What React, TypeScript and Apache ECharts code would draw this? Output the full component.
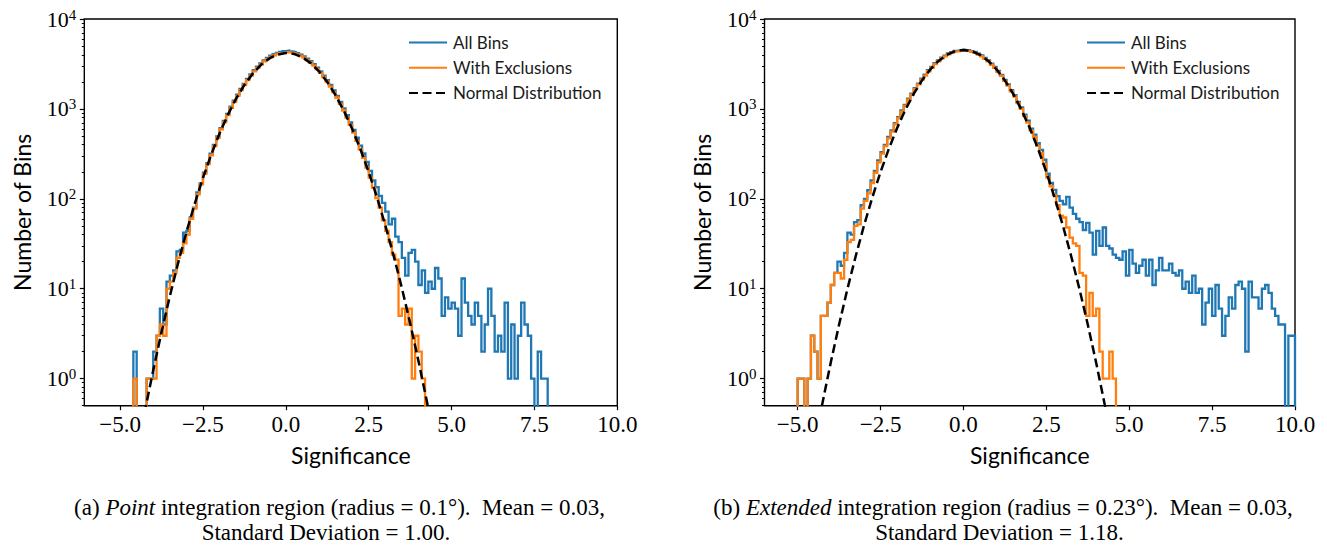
import React, { useEffect, useRef } from 'react';
import * as echarts from 'echarts';

// ---------------- data ----------------
const BIN_WIDTH = 0.1;

// Panel (a): Point integration region
const A_ALL_START = -4.6;
const A_ALL = [
  2, 0, 0, 0, 1, 1, 2, 3, 6, 4,
  12, 14, 16, 26, 27, 42, 44, 62, 80, 118,
  148, 196, 250, 318, 398, 495, 612, 735, 880, 1060,
  1235, 1440, 1665, 1900, 2160, 2420, 2690, 2950, 3200, 3470,
  3690, 3900, 4060, 4200, 4300, 4380, 4450, 4370, 4310, 4170,
  4020, 3830, 3620, 3390, 3140, 2880, 2610, 2350, 2090, 1845,
  1610, 1395, 1195, 1010, 850, 710, 585, 480, 390, 320,
  258, 205, 160, 135, 108, 90, 72, 52, 60, 38,
  33, 22, 14, 25, 27, 20, 11, 16, 9, 12,
  10, 17, 13, 5, 8, 6, 7, 6, 3, 13,
  7, 5, 4, 7, 5, 2, 4, 10, 5, 2,
  3, 2, 7, 1, 4, 1, 3, 7, 4, 3,
  1, 0, 2, 1, 1,
];
const A_EXCL_START = -4.6;
const A_EXCL = [
  1, 0, 0, 0, 1, 1, 1, 3, 4, 3,
  10, 12, 15, 22, 25, 32, 40, 60, 78, 112,
  145, 190, 243, 305, 385, 478, 592, 712, 855, 1030,
  1200, 1395, 1620, 1845, 2095, 2350, 2610, 2860, 3110, 3370,
  3580, 3780, 3940, 4080, 4170, 4240, 4280, 4220, 4170, 4040,
  3890, 3710, 3500, 3280, 3030, 2780, 2520, 2265, 2010, 1770,
  1540, 1330, 1135, 960, 800, 665, 545, 440, 355, 285,
  222, 172, 133, 102, 80, 58, 44, 33, 24, 21,
  5, 6, 4, 6, 1, 3, 2, 1,
];

// Panel (b): Extended integration region
const B_ALL_START = -5.0;
const B_ALL = [
  1, 1, 0, 1, 3, 2, 1, 5, 5, 7,
  11, 15, 20, 18, 25, 42, 40, 55, 58, 85,
  100, 125, 160, 205, 268, 330, 398, 488, 575, 695,
  810, 962, 1110, 1300, 1480, 1705, 1915, 2170, 2400, 2690,
  2940, 3225, 3460, 3725, 3920, 4140, 4280, 4430, 4490, 4560,
  4530, 4510, 4400, 4300, 4110, 3935, 3690, 3465, 3180, 2935,
  2640, 2390, 2105, 1875, 1615, 1420, 1200, 1040, 865, 740,
  605, 518, 415, 350, 272, 190, 150, 126, 107, 95,
  87, 105, 80, 68, 60, 55, 45, 54, 42, 24,
  44, 30, 48, 30, 28, 24, 22, 21, 26, 14,
  27, 19, 15, 18, 21, 14, 21, 11, 16, 22,
  16, 16, 19, 15, 14, 16, 10, 12, 9, 14,
  9, 10, 4, 7, 10, 5, 11, 6, 3, 5,
  8, 6, 11, 12, 10, 2, 12, 8, 8, 6,
  10, 11, 9, 6, 5, 4, 4, 0, 3, 3,
];
const B_EXCL_START = -5.0;
const B_EXCL = [
  1, 1, 0, 1, 3, 2, 1, 5, 5, 7,
  11, 15, 15, 13, 21, 33, 35, 50, 52, 78,
  95, 115, 150, 195, 255, 318, 385, 470, 558, 675,
  790, 935, 1080, 1265, 1445, 1660, 1870, 2115, 2345, 2625,
  2870, 3150, 3385, 3640, 3835, 4050, 4190, 4335, 4395, 4460,
  4435, 4410, 4300, 4205, 4015, 3845, 3605, 3380, 3100, 2860,
  2570, 2325, 2045, 1820, 1565, 1375, 1160, 1000, 830, 705,
  575, 488, 388, 322, 245, 172, 138, 110, 85, 65,
  62, 48, 37, 32, 30, 15, 14, 5, 9, 5,
  6, 2, 1, 1, 2, 1,
];

// Normal distribution reference curves
const NORMAL_X = [
  -4.5, -4.25, -4, -3.75, -3.5, -3.25, -3, -2.75, -2.5, -2.25, -2, -1.75, -1.5,
  -1.25, -1, -0.75, -0.5, -0.25, 0, 0.25, 0.5, 0.75, 1, 1.25, 1.5, 1.75, 2,
  2.25, 2.5, 2.75, 3, 3.25, 3.5, 3.75, 4, 4.25, 4.5,
];
const A_NORMAL = [
  0.147, 0.44, 1.24, 3.3, 8.24, 19.3, 42.5, 87.9, 171, 311, 533, 859, 1300,
  1846, 2464, 3090, 3639, 4027, 4186, 4090, 3750, 3231, 2617, 1990, 1422, 954, 602,
  356, 198, 104, 50.9, 23.5, 10.2, 4.14, 1.58, 0.57, 0.19,
];
const B_NORMAL = [
  0.18, 0.54, 1.52, 4.0, 9.9, 23.0, 50.3, 103, 199, 360, 613, 979, 1470,
  2073, 2747, 3420, 3997, 4389, 4529, 4389, 3997, 3420, 2747, 2073, 1470, 979, 613,
  360, 199, 103, 50.3, 23.0, 9.9, 4.0, 1.52, 0.54, 0.18,
];

const X_TICKS = [-5, -2.5, 0, 2.5, 5, 7.5, 10];
const Y_TICKS = [1, 10, 100, 1000, 10000];
const Y_MINOR_MULT = [2, 3, 4, 5, 6, 7, 8, 9];
const Y_MINOR_DECADES = [0.1, 1, 10, 100, 1000];

const NAMES = ['All Bins', 'With Exclusions', 'Normal Distribution'];
const COLORS = ['#1f77b4', '#ff7f0e', '#000000'];

const CAPTION_A = ['(a) ', 'Point', ' integration region (radius = 0.1°).  Mean = 0.03,', 'Standard Deviation = 1.00.'];
const CAPTION_B = ['(b) ', 'Extended', ' integration region (radius = 0.23°).  Mean = 0.03,', 'Standard Deviation = 1.18.'];

// ---------------- layout ----------------
const SERIF = "'Liberation Serif', 'DejaVu Serif', serif";
const SANS = "Lato, 'DejaVu Sans', sans-serif";
const FLOOR = 0.05;
const PANELS = [
  { left: 84.3, width: 533, xMin: -6.08, legendLeft: 403, capCenter: 339.5, cap2Center: 326 },
  { left: 764.5, width: 530.5, xMin: -6.0, legendLeft: 1081, capCenter: 1003, cap2Center: 999.5 },
];
const GRID_TOP = 19;
const GRID_HEIGHT = 386.7;

function histPoints(start: number, counts: number[]) {
  const pts: number[][] = [[start, FLOOR]];
  counts.forEach((c, i) => {
    const v = c > 0 ? c : FLOOR;
    const x0 = +(start + i * BIN_WIDTH).toFixed(4);
    const x1 = +(start + (i + 1) * BIN_WIDTH).toFixed(4);
    pts.push([x0, v], [x1, v]);
  });
  pts.push([+(start + counts.length * BIN_WIDTH).toFixed(4), FLOOR]);
  return pts;
}

function buildOption() {
  const minor: number[] = [];
  Y_MINOR_DECADES.forEach((d) => Y_MINOR_MULT.forEach((m) => minor.push(+(d * m).toFixed(4))));

  const grids = PANELS.map((p) => ({
    left: p.left,
    top: GRID_TOP,
    width: p.width,
    height: GRID_HEIGHT,
    show: true,
    borderColor: '#000',
    borderWidth: 1.4,
    backgroundColor: 'transparent',
    containLabel: false,
  }));

  const xAxes = PANELS.map((p, i) => ({
    type: 'value',
    gridIndex: i,
    position: 'bottom',
    min: p.xMin,
    max: 10,
    axisLine: { show: false, onZero: false },
    splitLine: { show: false },
    axisTick: { show: true, inside: false, length: 4.5, lineStyle: { color: '#000', width: 1.2 }, customValues: X_TICKS },
    axisLabel: {
      show: true,
      customValues: X_TICKS,
      margin: 7,
      fontFamily: SERIF,
      fontSize: 23,
      color: '#000',
      formatter: (v: number) => (v < 0 ? '\u2212' : '') + Math.abs(v).toFixed(1),
    },
    name: 'Significance',
    nameLocation: 'middle',
    nameGap: 38,
    nameTextStyle: { fontFamily: SANS, fontSize: 23, color: '#000' },
  }));

  const yAxes: any[] = [];
  PANELS.forEach((p, i) => {
    yAxes.push({
      type: 'log',
      logBase: 10,
      gridIndex: i,
      position: 'left',
      min: 0.5,
      max: 10000,
      axisLine: { show: false, onZero: false },
      splitLine: { show: false },
      minorTick: { show: false },
      axisTick: { show: true, inside: false, length: 4.5, lineStyle: { color: '#000', width: 1.2 }, customValues: Y_TICKS },
      axisLabel: {
        show: true,
        customValues: Y_TICKS,
        margin: 8,
        formatter: (v: number) => `{b|10}{s|${Math.round(Math.log10(v))}}`,
        rich: {
          b: { fontFamily: SERIF, fontSize: 22, lineHeight: 24, color: '#000' },
          s: { fontFamily: SERIF, fontSize: 15, lineHeight: 15, verticalAlign: 'top', color: '#000' },
        },
      },
      name: 'Number of Bins',
      nameLocation: 'middle',
      nameGap: 51,
      nameRotate: 90,
      nameTextStyle: { fontFamily: SANS, fontSize: 23, color: '#000' },
    });
    yAxes.push({
      type: 'log',
      logBase: 10,
      gridIndex: i,
      position: 'left',
      offset: 0,
      min: 0.5,
      max: 10000,
      axisLine: { show: false, onZero: false },
      splitLine: { show: false },
      axisTick: { show: true, inside: false, length: 2.5, lineStyle: { color: '#000', width: 1 }, customValues: minor },
      axisLabel: { show: false },
    });
  });

  const series: any[] = [];
  const hist = [
    [A_ALL_START, A_ALL, A_EXCL_START, A_EXCL, A_NORMAL],
    [B_ALL_START, B_ALL, B_EXCL_START, B_EXCL, B_NORMAL],
  ] as const;
  hist.forEach((h, i) => {
    const common = { type: 'line', xAxisIndex: i, yAxisIndex: i * 2, symbol: 'none', clip: true, silent: true, animation: false };
    series.push({
      ...common,
      name: NAMES[0],
      data: histPoints(h[0] as number, h[1] as number[]),
      lineStyle: { color: COLORS[0], width: 2.3, join: 'miter' },
      itemStyle: { color: COLORS[0] },
      z: 2,
    });
    series.push({
      ...common,
      name: NAMES[1],
      data: histPoints(h[2] as number, h[3] as number[]),
      lineStyle: { color: COLORS[1], width: 2.3, join: 'miter' },
      itemStyle: { color: COLORS[1] },
      z: 3,
    });
    series.push({
      ...common,
      name: NAMES[2],
      data: NORMAL_X.map((x, k) => [x, (h[4] as number[])[k]]),
      lineStyle: { color: COLORS[2], width: 2.5, type: [9, 4.5] },
      itemStyle: { color: COLORS[2] },
      z: 4,
    });
  });

  const legends = PANELS.map((p) => ({
    left: p.legendLeft,
    top: 29,
    orient: 'vertical',
    itemWidth: 38,
    itemHeight: 16,
    itemGap: 8.2,
    selectedMode: false,
    data: NAMES,
    itemStyle: { opacity: 0, borderWidth: 0 },
    textStyle: { fontFamily: SANS, fontSize: 17, color: '#1a1a1a', padding: [0, 0, 0, 1] },
  }));

  const CAP_FONT = 23;
  const capRich = {
    r: { fontFamily: SERIF, fontSize: CAP_FONT, color: '#000' },
    i: { fontFamily: SERIF, fontSize: CAP_FONT, fontStyle: 'italic', color: '#000' },
  };
  const graphic: any[] = [];
  [CAPTION_A, CAPTION_B].forEach((c, i) => {
    const p = PANELS[i];
    graphic.push({
      type: 'text',
      x: p.capCenter,
      y: 507,
      style: {
        text: `{r|${c[0]}}{i|${c[1]}}{r|${c[2]}}`,
        rich: capRich,
        align: 'center',
        verticalAlign: 'middle',
      },
    });
    graphic.push({
      type: 'text',
      x: p.cap2Center,
      y: 532,
      style: {
        text: c[3],
        fontFamily: SERIF,
        fontSize: CAP_FONT,
        fill: '#000',
        align: 'center',
        verticalAlign: 'middle',
      },
    });
  });

  return {
    animation: false,
    backgroundColor: '#ffffff',
    grid: grids,
    xAxis: xAxes,
    yAxis: yAxes,
    legend: legends,
    series,
    graphic,
  };
}

export default function App() {
  const ref = useRef<HTMLDivElement>(null);
  useEffect(() => {
    if (!ref.current) return;
    const chart = echarts.init(ref.current, undefined, { renderer: 'svg' });
    chart.setOption(buildOption() as any);
    return () => chart.dispose();
  }, []);
  return (
    <div
      ref={ref}
      style={{ position: 'absolute', left: 0, top: 0, width: 1327, height: 546, background: '#fff' }}
    />
  );
}
